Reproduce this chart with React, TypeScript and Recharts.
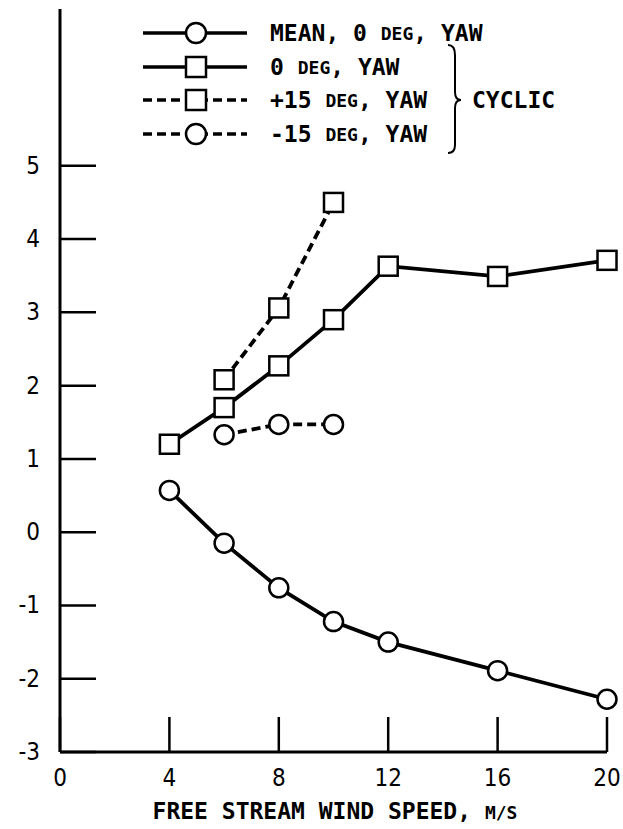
import React from 'react';
import { LineChart, Line, XAxis, YAxis } from 'recharts';

// wind speed (m/s) and values
const meanSpeed = [4, 6, 8, 10, 12, 16, 20];
const meanYaw0 = [0.57, -0.15, -0.76, -1.22, -1.5, -1.89, -2.28];

const cyc0Speed = [4, 6, 8, 10, 12, 16, 20];
const cycYaw0 = [1.2, 1.7, 2.27, 2.9, 3.63, 3.49, 3.71];

const plus15Speed = [6, 8, 10];
const cycPlus15 = [2.08, 3.06, 4.5];

const minus15Speed = [6, 8, 10];
const cycMinus15 = [1.33, 1.47, 1.47];

const xTicks = [0, 4, 8, 12, 16, 20];
const yTicks = [-3, -2, -1, 0, 1, 2, 3, 4, 5];

const toRows = (xs: number[], ys: number[]) => xs.map((x, i) => ({ x, y: ys[i] }));

const meanData = toRows(meanSpeed, meanYaw0);
const cyc0Data = toRows(cyc0Speed, cycYaw0);
const plus15Data = toRows(plus15Speed, cycPlus15);
const minus15Data = toRows(minus15Speed, cycMinus15);

const FONT = '"DejaVu Sans Mono", monospace';
const NUM_FONT = '"DejaVu Sans Condensed", "DejaVu Sans", sans-serif';

const CircleDot = (props: any) => {
  const { cx, cy, index } = props;
  if (cx == null || cy == null) return null;
  return <circle key={index} cx={cx} cy={cy} r={9.5} fill="#fff" stroke="#000" strokeWidth={2.5} />;
};

const SquareDot = (props: any) => {
  const { cx, cy, index } = props;
  if (cx == null || cy == null) return null;
  return <rect key={index} x={cx - 9.5} y={cy - 9.5} width={19} height={19} fill="#fff" stroke="#000" strokeWidth={2.5} />;
};

const YTick = (props: any) => {
  const { x, y, payload } = props;
  return (
    <g>
      <line x1={x} y1={y} x2={x + 36} y2={y} stroke="#000" strokeWidth={2.5} />
      <text x={x - 20} y={y} textAnchor="end" dominantBaseline="central" fontFamily={NUM_FONT} fontSize={24} fill="#000">
        {payload.value}
      </text>
    </g>
  );
};

const XTick = (props: any) => {
  const { x, y, payload } = props;
  return (
    <g>
      <line x1={x} y1={y} x2={x} y2={y - 35} stroke="#000" strokeWidth={2.5} />
      <text x={x} y={y + 26} textAnchor="middle" dominantBaseline="central" fontFamily={NUM_FONT} fontSize={24} fill="#000">
        {payload.value}
      </text>
    </g>
  );
};

const LegendOverlay = () => {
  const rows = [
    { y: 33, marker: 'circle', dash: undefined, pre: 'MEAN, 0 ', post: ', YAW' },
    { y: 67, marker: 'square', dash: undefined, pre: '0 ', post: ', YAW' },
    { y: 100, marker: 'square', dash: '9 5', pre: '+15 ', post: ', YAW' },
    { y: 134, marker: 'circle', dash: '9 5', pre: '-15 ', post: ', YAW' },
  ];
  return (
    <svg width={623} height={200} style={{ position: 'absolute', left: 0, top: 0, pointerEvents: 'none' }}>
      {rows.map((r, i) => (
        <g key={i}>
          <line x1={143} y1={r.y} x2={247} y2={r.y} stroke="#000" strokeWidth={3.5} strokeDasharray={r.dash} />
          {r.marker === 'circle' ? (
            <circle cx={196} cy={r.y} r={10} fill="#fff" stroke="#000" strokeWidth={2.5} />
          ) : (
            <rect x={186} y={r.y - 10} width={20} height={20} fill="#fff" stroke="#000" strokeWidth={2.5} />
          )}
          <text x={270} y={r.y} dominantBaseline="central" fontFamily={FONT} fontSize={23} fontWeight="bold" fill="#000">
            {r.pre}
            <tspan fontSize={18}>DEG</tspan>
            {r.post}
          </text>
        </g>
      ))}
      <path
        d="M448 45 Q455 45 455 55 L455 92 Q455 100 461 100 Q455 100 455 108 L455 145 Q455 153 448 153"
        fill="none"
        stroke="#000"
        strokeWidth={2}
      />
      <text x={472} y={100} dominantBaseline="central" fontFamily={FONT} fontSize={23} fontWeight="bold" fill="#000">
        CYCLIC
      </text>
    </svg>
  );
};

export default function App() {
  return (
    <div style={{ position: 'absolute', left: 0, top: 0, width: 623, height: 829, background: '#fff' }}>
      <LineChart width={623} height={829} margin={{ top: 9, right: 16, bottom: 0, left: 0 }}>
        <XAxis
          type="number"
          dataKey="x"
          domain={[0, 20]}
          ticks={xTicks}
          height={77}
          axisLine={{ stroke: '#000', strokeWidth: 3 }}
          tickLine={false}
          tickSize={0}
          tickMargin={0}
          tick={<XTick />}
          interval={0}
        />
        <YAxis
          type="number"
          dataKey="y"
          domain={[-3, 7.14]}
          ticks={yTicks}
          width={60}
          axisLine={{ stroke: '#000', strokeWidth: 3 }}
          tickLine={false}
          tickSize={0}
          tickMargin={0}
          tick={<YTick />}
          interval={0}
        />
        <Line data={meanData} dataKey="y" stroke="#000" strokeWidth={3.8} dot={<CircleDot />} isAnimationActive={false} />
        <Line data={cyc0Data} dataKey="y" stroke="#000" strokeWidth={3.8} dot={<SquareDot />} isAnimationActive={false} />
        <Line data={plus15Data} dataKey="y" stroke="#000" strokeWidth={3.8} strokeDasharray="9 5" dot={<SquareDot />} isAnimationActive={false} />
        <Line data={minus15Data} dataKey="y" stroke="#000" strokeWidth={3.8} strokeDasharray="9 5" dot={<CircleDot />} isAnimationActive={false} />
      </LineChart>
      <div
        style={{
          position: 'absolute',
          left: 0,
          top: 798,
          width: 670,
          textAlign: 'center',
          fontFamily: FONT,
          fontSize: 23,
          fontWeight: 'bold',
          lineHeight: '26px',
        }}
      >
        FREE STREAM WIND SPEED, <span style={{ fontSize: 18 }}>M/S</span>
      </div>
      <LegendOverlay />
    </div>
  );
}
